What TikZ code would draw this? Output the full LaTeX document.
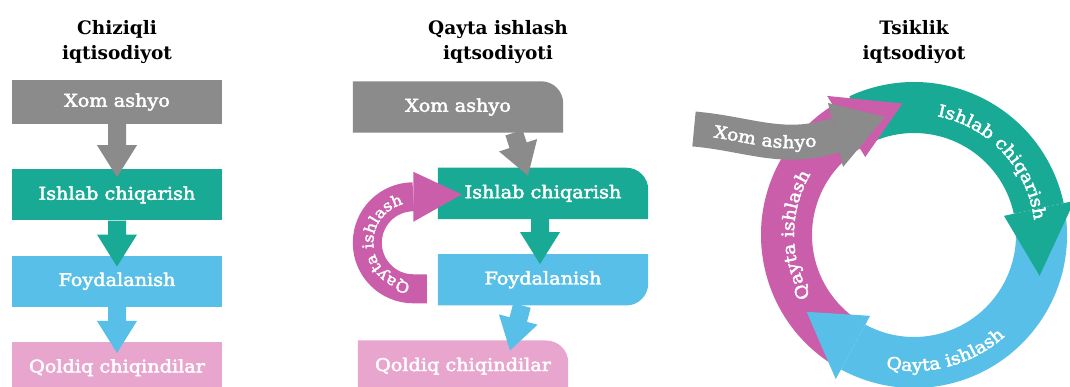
\documentclass[tikz,border=0pt]{standalone}
\usepackage{fontspec}
\setmainfont{DejaVu Serif}
\newfontfamily\boxfont{DejaVu Serif}[FakeStretch=1.1, FakeBold=2.5]
\usetikzlibrary{positioning, calc, backgrounds, decorations.text}

\definecolor{xomgray}{RGB}{139,139,139}
\definecolor{ishgreen}{RGB}{24,170,148}
\definecolor{foyblue}{RGB}{88,192,232}
\definecolor{qolpink}{RGB}{232,166,206}
\definecolor{qaytapink}{RGB}{202,94,170}

\newcommand\arcfont{\boxfont\fontsize{17}{20}\selectfont}
\newcommand\smallarcfont{\boxfont\fontsize{15}{18}\selectfont}

\tikzset{
	box/.style={minimum width=210pt, minimum height=51pt, inner sep=0pt, text=white, font=\boxfont\fontsize{17.5}{20}\selectfont},
	title/.style={align=center, font=\bfseries\fontsize{18.5}{25}\selectfont},
	arctext/.style={decorate, decoration={text along path, text align=center, text color=white}},
}

% box with one rounded corner
\newcommand\fillne[2]{\fill[#2] (#1.south west) -- (#1.north west) -- ([xshift=-22pt]#1.north east) arc[start angle=90, end angle=0, radius=22pt] -- (#1.south east) -- cycle;}
\newcommand\fillse[2]{\fill[#2] (#1.south west) -- (#1.north west) -- (#1.north east) -- ([yshift=22pt]#1.south east) arc[start angle=0, end angle=-90, radius=22pt] -- cycle;}

% wide arrow from #2 to #3
\newcommand\blockarr[3]{%
	\path ($(#3)!32pt!(#2)$) coordinate (hb);
	\fill[#1] ($(#2)!9pt!90:(#3)$) -- ($(hb)!9pt!-90:(#2)$) -- ($(hb)!20pt!-90:(#2)$) -- (#3)
		-- ($(hb)!20pt!90:(#2)$) -- ($(hb)!9pt!90:(#2)$) -- ($(#2)!9pt!-90:(#3)$) -- cycle;
}

% pieces of the ring round (c)
\newcommand\ringpart[3]{\fill[#1] ($(c)+(#2:153pt)$) arc[start angle=#2, end angle=#3, radius=153pt] -- ($(c)+(#3:102pt)$) arc[start angle=#3, end angle=#2, radius=102pt] -- cycle;}
\newcommand\ringhead[3]{\fill[#1] ($(c)+(#2:92pt)$) -- ($(c)+(#3:132pt)$) -- ($(c)+(#2:164pt)$) -- cycle;}

\begin{document}
\begin{tikzpicture}[x=1pt, y=1pt]
	\useasboundingbox (0,0) rectangle (1070,387);

	\node[title] (t1) at (117,345) {Chiziqli\\iqtisodiyot};
	\node[box, fill=xomgray, minimum height=44pt] (x1) at (117,285) {Xom ashyo};
	\node[box, fill=ishgreen, below=45pt of x1] (p1) {Ishlab chiqarish};
	\node[box, fill=foyblue, below=35pt of p1] (f1) {Foydalanish};
	\node[box, fill=qolpink, below=35pt of f1] (c1) {Qoldiq chiqindilar};

	\coordinate (a1) at ([yshift=-8pt]p1.north);
	\coordinate (a2) at ([yshift=-11pt]f1.north);
	\coordinate (a3) at ([yshift=-11pt]c1.north);
	\blockarr{xomgray}{x1.south}{a1}
	\blockarr{ishgreen}{p1.south}{a2}
	\blockarr{foyblue}{f1.south}{a3}

	\node[title] (t2) at (498,345) {Qayta ishlash\\iqtsodiyoti};
	\node[box] (x2) at (458,280) {Xom ashyo\hspace{14pt}};
	\node[box, below=35pt of x2, xshift=85pt] (p2) {Ishlab chiqarish};
	\node[box, below=35pt of p2] (f2) {Foydalanish};
	\node[box, below=35pt of f2, xshift=-80pt] (c2) {Qoldiq chiqindilar};
	\begin{scope}[on background layer]
		\fill[white] (0,0) rectangle (1070,387);
		\fillne{x2}{xomgray}
		\fillne{p2}{ishgreen}
		\fillse{f2}{foyblue}
		\fillne{c2}{qolpink}
	\end{scope}

	\coordinate (b0) at ([xshift=56pt]x2.south);
	\coordinate (b1) at ([xshift=-15pt, yshift=-8pt]p2.north);
	\coordinate (b2) at ([xshift=-3pt]p2.south);
	\coordinate (b3) at ([xshift=-3pt, yshift=-10pt]f2.north);
	\coordinate (b4) at ([xshift=-21pt]f2.south);
	\coordinate (b5) at ([xshift=47pt, yshift=-10pt]c2.north);
	\blockarr{xomgray}{b0}{b1}
	\blockarr{ishgreen}{b2}{b3}
	\blockarr{foyblue}{b4}{b5}

	\coordinate (r0) at ([xshift=-11pt, yshift=-9pt]f2.west);
	\coordinate (r1) at ([xshift=24pt, yshift=-1pt]p2.west);
	\coordinate (cc) at ($(r0)+(-13.5,46)$);
	\draw[qaytapink, line width=29pt] (r0) -- ++(-13.5,0) arc[start angle=-90, end angle=-270, radius=46pt] coordinate (r2);
	\fill[qaytapink] ([yshift=25pt]r2) -- (r1) -- ([yshift=-25pt]r2) -- cycle;
	\path[arctext, decoration={text={|\smallarcfont|Qayta ishlash}}] ($(cc)+(275:40pt)$) arc[start angle=275, end angle=95, radius=40pt];

	\node[title] (t3) at (914,345) {Tsiklik\\iqtsodiyot};
	\coordinate (c) at (914,152);
	\ringpart{qaytapink}{238}{122}
	\ringpart{ishgreen}{115}{12}
	\ringpart{foyblue}{8}{-118.5}
	\ringhead{qaytapink}{122}{95}
	\ringhead{ishgreen}{12}{-18}
	\ringhead{foyblue}{-118.5}{-144.4}
	\path[arctext, decoration={text={|\arcfont|Ishlab chiqarish}}] ($(c)+(88:121pt)$) arc[start angle=88, end angle=-2, radius=121pt];
	\path[arctext, decoration={text={|\arcfont|Qayta ishlash}}] ($(c)+(240:136pt)$) arc[start angle=240, end angle=330, radius=136pt];
	\path[arctext, decoration={text={|\arcfont|Qayta ishlash}}] ($(c)+(225:120pt)$) arc[start angle=225, end angle=135, radius=120pt];

	\coordinate (g0) at (694,258);
	\coordinate (g1) at (836,252);
	\draw[xomgray, line width=35pt] (g0) to[out=-5, in=198] (g1);
	\fill[xomgray] (828,284) -- (885,270) -- (843,220) -- cycle;
	\path[arctext, decoration={text={|\arcfont|Xom ashyo}, raise=-6pt}] (g0) to[out=-5, in=198] (g1);
\end{tikzpicture}
\end{document}
